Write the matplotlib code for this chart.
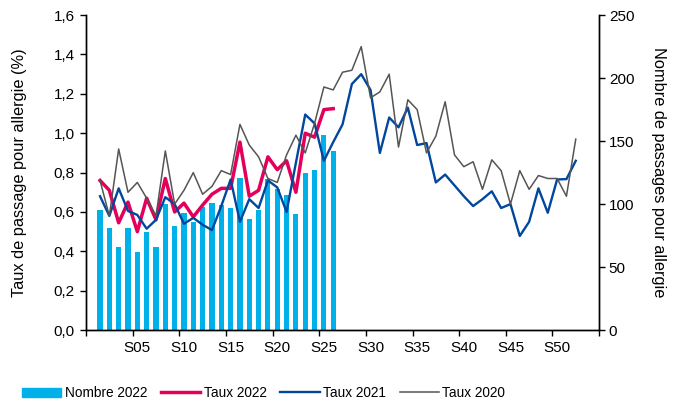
import numpy as np
import matplotlib
matplotlib.use('Agg')
import matplotlib.pyplot as plt
from matplotlib import font_manager
from matplotlib.ticker import FuncFormatter, FixedLocator

# -----------------------------
# Data
# -----------------------------
weeks_2022 = list(range(1, 27))
weeks_full = list(range(1, 53))

nombre_2022 = [95, 81, 66, 81, 62, 78, 66, 100, 83, 93, 86, 98, 101,
               99, 97, 121, 88, 95, 120, 112, 107, 92, 125, 127, 155, 142]

taux_2022 = [0.76, 0.71, 0.545, 0.65, 0.50, 0.67, 0.56, 0.77, 0.60, 0.645,
             0.575, 0.635, 0.69, 0.72, 0.72, 0.955, 0.68, 0.71, 0.88, 0.815,
             0.86, 0.70, 1.00, 0.98, 1.12, 1.125]

taux_2021 = [0.68, 0.58, 0.72, 0.605, 0.585, 0.515, 0.56, 0.675, 0.64, 0.54,
             0.57, 0.535, 0.508, 0.63, 0.765, 0.55, 0.665, 0.62, 0.76, 0.725,
             0.60, 0.85, 1.095, 1.05, 0.86, 0.955, 1.045, 1.25, 1.30, 1.22,
             0.90, 1.08, 1.03, 1.13, 0.94, 0.95, 0.75, 0.79, 0.735, 0.68,
             0.63, 0.665, 0.705, 0.62, 0.64, 0.478, 0.55, 0.72, 0.596, 0.765,
             0.767, 0.86]

taux_2020 = [0.76, 0.58, 0.92, 0.70, 0.75, 0.67, 0.58, 0.91, 0.64, 0.71,
             0.80, 0.69, 0.73, 0.81, 0.79, 1.045, 0.94, 0.88, 0.77, 0.75,
             0.89, 0.99, 0.90, 1.05, 1.235, 1.22, 1.31, 1.32, 1.44, 1.18,
             1.21, 1.30, 0.93, 1.17, 1.12, 0.90, 0.985, 1.16, 0.89, 0.83,
             0.855, 0.715, 0.865, 0.81, 0.64, 0.81, 0.715, 0.785, 0.77, 0.77,
             0.68, 0.97]

week_labels = ['S05', 'S10', 'S15', 'S20', 'S25', 'S30', 'S35', 'S40', 'S45', 'S50']
label_weeks = [5, 10, 15, 20, 25, 30, 35, 40, 45, 50]

# -----------------------------
# Style
# -----------------------------
COL_BAR = '#00B0E8'
COL_2022 = '#E4005A'
COL_2021 = '#00479D'
COL_2020 = '#555555'


def pick_font(names):
    for n in names:
        try:
            font_manager.findfont(n, fallback_to_default=False)
            return n
        except Exception:
            continue
    return 'DejaVu Sans'


MAIN_FONT = pick_font(['Liberation Sans', 'Arimo', 'DejaVu Sans'])
plt.rcParams['font.family'] = [MAIN_FONT, 'DejaVu Sans']

fig = plt.figure(figsize=(6.8, 4.09), dpi=100)
ax = fig.add_axes([0.1265, 0.193, 0.7545, 0.770])
ax2 = ax.twinx()

# bars on the right axis, lines on the left axis (drawn on top)
ax2.bar(weeks_2022, nombre_2022, width=0.55, color=COL_BAR, zorder=1)
ax.set_zorder(ax2.get_zorder() + 1)
ax.patch.set_visible(False)

ax.plot(weeks_2022, taux_2022, color=COL_2022, lw=2.5, solid_joinstyle='round')
ax.plot(weeks_full, taux_2021, color=COL_2021, lw=1.7, solid_joinstyle='round')
ax.plot(weeks_full, taux_2020, color=COL_2020, lw=1.1, solid_joinstyle='round')

ax.set_xlim(-0.5, 54.5)
ax.set_ylim(0, 1.6)
ax2.set_ylim(0, 250)

ax.yaxis.set_major_locator(FixedLocator(np.arange(0, 1.61, 0.2)))
ax.yaxis.set_major_formatter(FuncFormatter(lambda v, p: f'{v:.1f}'.replace('.', ',')))
ax2.yaxis.set_major_locator(FixedLocator(np.arange(0, 251, 50)))

# ticks at category boundaries, labels at category centres
ax.xaxis.set_major_locator(FixedLocator(np.arange(-0.5, 55, 5)))
ax.xaxis.set_major_formatter(FuncFormatter(lambda v, p: ''))
ax.xaxis.set_minor_locator(FixedLocator(label_weeks))
ax.set_xticklabels(week_labels, minor=True)
ax.tick_params(axis='x', which='minor', length=0, pad=8, labelsize=11)
ax.tick_params(axis='x', which='major', length=4, width=1, direction='out')
ax.tick_params(axis='y', length=4, width=1, direction='out', labelsize=11, pad=4)
ax2.tick_params(axis='y', length=4, width=1, direction='out', labelsize=11, pad=3)

for a in (ax, ax2):
    a.spines['top'].set_visible(False)
    for s in ('left', 'right', 'bottom'):
        a.spines[s].set_linewidth(1.0)
        a.spines[s].set_color('black')

ax.set_ylabel('Taux de passage pour allergie (%)', fontsize=11.8, labelpad=19)
ax2.set_ylabel('Nombre de passages pour allergie', fontsize=11.8, rotation=-90,
               labelpad=23)

# legend
handles = [
    plt.Rectangle((0, 0), 1, 1, color=COL_BAR),
    plt.Line2D([], [], color=COL_2022, lw=2.5),
    plt.Line2D([], [], color=COL_2021, lw=1.7),
    plt.Line2D([], [], color=COL_2020, lw=1.1),
]
labels = ['Nombre 2022', 'Taux 2022', 'Taux 2021', 'Taux 2020']
fig.legend(handles, labels, loc='center left', bbox_to_anchor=(22 / 680, 0.039),
           ncol=4, frameon=False, borderpad=0, borderaxespad=0,
           handlelength=2.9, handleheight=0.6, handletextpad=0.25,
           columnspacing=1.0, prop={'size': 9.8})

fig.savefig('out.png', dpi=100)
